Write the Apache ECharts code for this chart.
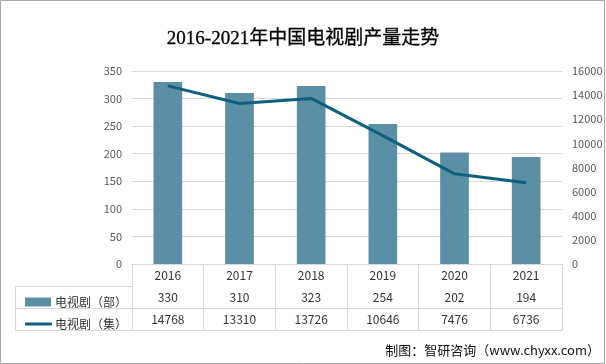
<!DOCTYPE html>
<html><head><meta charset="utf-8">
<script src="https://cdn.jsdelivr.net/npm/echarts@6/dist/echarts.min.js"></script>
<style>html,body{margin:0;padding:0;background:#fff}#c{width:606px;height:364px}</style>
</head><body><div id="c"></div>
<script>
const categories = ['2016','2017','2018','2019','2020','2021'];
const barName = '电视剧（部）';
const lineName = '电视剧（集）';
const barValues = [330, 310, 323, 254, 202, 194];
const lineValues = [14768, 13310, 13726, 10646, 7476, 6736];
const leftTicks = {min: 0, max: 350, interval: 50};
const rightTicks = {min: 0, max: 16000, interval: 2000};

const GL = 132, GR = 44, GT = 71, GB = 100, ROW = 22, TBL_LEFT = 15;
const W = 606, H = 364;
const gridBottomY = H - GB;
const lineCol = '#d9d9d9';
const sans = '"Noto Sans CJK SC", "Noto Sans", sans-serif';

const chart = echarts.init(document.getElementById('c'), null, {renderer: 'canvas'});

function tableAxis(offset, formatter, showLabel) {
  return {
    type: 'category', data: categories, position: 'bottom', offset: offset,
    axisLine: {show: true, lineStyle: {color: lineCol, width: 1}},
    axisTick: {show: false},
    axisLabel: {show: showLabel, interval: 0, margin: 5, fontSize: 12, color: '#333', fontFamily: sans, formatter: formatter}
  };
}

const option = {
  backgroundColor: '#fff',
  animation: false,
  title: {
    text: '2016-2021年中国电视剧产量走势', left: 'center', top: 25,
    textStyle: {fontSize: 19, fontWeight: 'normal', color: '#000', fontFamily: '"Liberation Serif", "Noto Sans CJK SC", serif',
      textBorderColor: '#000', textBorderWidth: 0.3}
  },
  legend: [
    {data: [{name: barName, icon: 'rect'}], left: 20, top: 291, itemWidth: 26, itemHeight: 9, itemGap: 0,
     textStyle: {fontSize: 12, color: '#333', fontFamily: sans, padding: [0, 0, 0, -1]}},
    {data: [{name: lineName, icon: 'rect'}], left: 20, top: 313, itemWidth: 27, itemHeight: 3, itemGap: 0,
     textStyle: {fontSize: 12, color: '#333', fontFamily: sans, padding: [0, 0, 0, -2]}}
  ],
  grid: {left: GL, right: GR, top: GT, bottom: GB, containLabel: false},
  xAxis: [
    {
      type: 'category', data: categories, position: 'bottom',
      axisLine: {show: true, lineStyle: {color: lineCol}},
      axisTick: {show: true, interval: 0, length: ROW * 3, lineStyle: {color: lineCol}},
      axisLabel: {interval: 0, margin: 5, fontSize: 12, color: '#333', fontFamily: sans}
    },
    tableAxis(ROW, (v, i) => String(barValues[i]), true),
    tableAxis(ROW * 2, (v, i) => String(lineValues[i]), true),
    tableAxis(ROW * 3, () => '', false)
  ],
  yAxis: [
    {
      type: 'value', min: leftTicks.min, max: leftTicks.max, interval: leftTicks.interval,
      axisLine: {show: false}, axisTick: {show: false},
      axisLabel: {fontSize: 11, color: '#595959', margin: 10, fontFamily: sans, formatter: v => String(v)},
      splitLine: {lineStyle: {color: lineCol}}
    },
    {
      type: 'value', min: rightTicks.min, max: rightTicks.max, interval: rightTicks.interval, position: 'right',
      axisLine: {show: false}, axisTick: {show: false},
      axisLabel: {fontSize: 11, color: '#595959', margin: 10, fontFamily: sans, formatter: v => String(v)},
      splitLine: {show: false}
    }
  ],
  series: [
    {name: barName, type: 'bar', data: barValues, barWidth: '40%', itemStyle: {color: '#5b8fa6'}},
    {name: lineName, type: 'line', yAxisIndex: 1, data: lineValues, symbol: 'none', smooth: false,
     lineStyle: {width: 3, color: '#0f6080'}, itemStyle: {color: '#0f6080'}}
  ],
  graphic: [
    {type: 'rect', shape: {x: 0.5, y: 0.5, width: W - 2, height: H - 1}, style: {fill: null, stroke: '#a6a6a6', lineWidth: 1}, silent: true},
    {type: 'line', shape: {x1: TBL_LEFT, y1: gridBottomY + ROW + 0.5, x2: GL, y2: gridBottomY + ROW + 0.5}, style: {stroke: lineCol, lineWidth: 1}},
    {type: 'line', shape: {x1: TBL_LEFT, y1: gridBottomY + ROW * 2 + 0.5, x2: GL, y2: gridBottomY + ROW * 2 + 0.5}, style: {stroke: lineCol, lineWidth: 1}},
    {type: 'line', shape: {x1: TBL_LEFT, y1: gridBottomY + ROW * 3 + 0.5, x2: GL, y2: gridBottomY + ROW * 3 + 0.5}, style: {stroke: lineCol, lineWidth: 1}},
    {type: 'line', shape: {x1: TBL_LEFT + 0.5, y1: gridBottomY + ROW, x2: TBL_LEFT + 0.5, y2: gridBottomY + ROW * 3}, style: {stroke: lineCol, lineWidth: 1}},
    {type: 'text', right: 6, top: 344, style: {text: '制图：智研咨询（www.chyxx.com）', fontSize: 13, fill: '#111', fontFamily: sans}}
  ]
};
chart.setOption(option);
</script>
</body></html>
